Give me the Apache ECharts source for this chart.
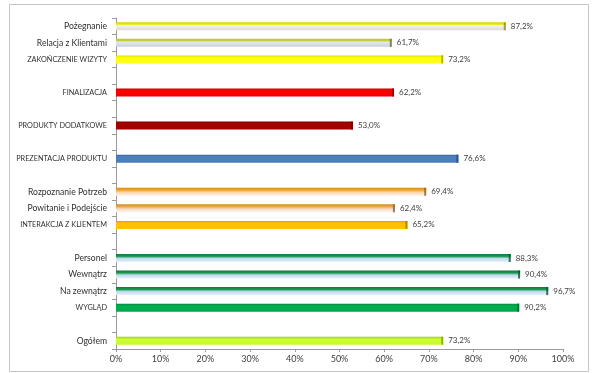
<!DOCTYPE html>
<html>
<head>
<meta charset="utf-8">
<script src="https://cdn.jsdelivr.net/npm/echarts@6/dist/echarts.min.js"></script>
<style>
html,body{margin:0;padding:0;background:#fff;}
#c{width:600px;height:373px;}
</style>
</head>
<body>
<div id="c"></div>
<script>
// Categories top to bottom (blank entries are empty spacer rows)
const categories = [
  'Pożegnanie', 'Relacja z Klientami', 'ZAKOŃCZENIE WIZYTY', ' ',
  'FINALIZACJA', '  ', 'PRODUKTY DODATKOWE', '   ',
  'PREZENTACJA PRODUKTU', '    ',
  'Rozpoznanie Potrzeb', 'Powitanie i Podejście', 'INTERAKCJA Z KLIENTEM', '     ',
  'Personel', 'Wewnątrz', 'Na zewnątrz', 'WYGLĄD', '      ',
  'Ogółem'
];
const values = [
  87.2, 61.7, 73.2, null,
  62.2, null, 53.0, null,
  76.6, null,
  69.4, 62.4, 65.2, null,
  88.3, 90.4, 96.7, 90.2, null,
  73.2
];
const xTicks = [0, 10, 20, 30, 40, 50, 60, 70, 80, 90, 100];

// Styles (gradient stops, top to bottom) per row
const palette = [
  [['#d6d600',0],['#e8e800',0.25],['#f2f2e8',0.4],['#dcdcd0',1]],
  [['#b8c830',0],['#c8d040',0.25],['#e6e8ee',0.4],['#c8d0dc',1]],
  [['#e0e000',0],['#ffff00',0.3],['#ffff20',1]],
  null,
  [['#d00000',0],['#ff0000',0.3],['#f00000',1]],
  null,
  [['#800000',0],['#a80000',0.3],['#a00000',1]],
  null,
  [['#3a6aa8',0],['#4f81bd',0.3],['#4a7cb8',1]],
  null,
  [['#d88a10',0],['#f0a838',0.3],['#fad8b0',0.6],['#fff4ea',1]],
  [['#d08a20',0],['#eca850',0.3],['#f8dcc8',0.6],['#fff6f0',1]],
  [['#e0a000',0],['#ffc000',0.3],['#ffc000',1]],
  null,
  [['#107840',0],['#1a9a50',0.3],['#c0d8ee',0.55],['#e8f0fa',1]],
  [['#107840',0],['#1a9a50',0.3],['#c0d8ee',0.55],['#e8f0fa',1]],
  [['#107840',0],['#1a9a50',0.3],['#c0d8ee',0.55],['#e8f0fa',1]],
  [['#008a40',0],['#00b050',0.3],['#00a84c',1]],
  null,
  [['#a0c820',0],['#ccff33',0.3],['#c8f830',1]]
];
const capColors = ['#8a8a20','#6a7040','#a0a000',null,'#900000',null,'#500000',null,'#274a78',null,
  '#906020','#806050','#a07800',null,'#0a5030','#0a5030','#0a5030','#006030',null,'#80a010'];

function grad(stops){
  return new echarts.graphic.LinearGradient(0,0,0,1, stops.map(s=>({offset:s[1], color:s[0]})));
}

const seriesData = values.map((v,i)=> v==null ? '-' : {
  value: v,
  itemStyle: { color: grad(palette[i]) }
});
const capData = values.map((v,i)=> v==null ? '-' : {
  value: v,
  itemStyle: { color: capColors[i] }
});

const chart = echarts.init(document.getElementById('c'), null, {renderer:'canvas'});
const font = 'Lato, "Open Sans", "DejaVu Sans", sans-serif';
chart.setOption({
  animation: false,
  backgroundColor: '#ffffff',
  grid: { left: 116, right: 37, top: 18, bottom: 24 },
  xAxis: {
    type: 'value', min: 0, max: 100, interval: 10,
    axisLine: { show: true, lineStyle: { color: '#9a9a9a' } },
    axisTick: { show: true, length: 3, lineStyle: { color: '#9a9a9a' } },
    splitLine: { show: false },
    axisLabel: { color: '#404040', fontSize: 9, fontFamily: font, margin: 6,
      formatter: v => xTicks.includes(v) ? v + '%' : '' }
  },
  yAxis: {
    type: 'category', inverse: true, data: categories,
    axisLine: { show: true, lineStyle: { color: '#9a9a9a' } },
    axisTick: { show: true, length: 4, lineStyle: { color: '#9a9a9a' } },
    axisLabel: { color: '#303030', fontFamily: font, margin: 9,
      formatter: v => v.trim() === '' ? '' : (v === v.toUpperCase() ? '{cap|' + v + '}' : '{low|' + v + '}'),
      rich: {
        cap: { fontSize: 7.3, fontFamily: font, color: '#303030' },
        low: { fontSize: 8.6, fontFamily: font, color: '#303030' }
      }
    }
  },
  series: [{
    type: 'bar', data: seriesData, barWidth: 8,
    label: { show: true, position: 'right', distance: 5, color: '#404040', fontSize: 8, fontFamily: font,
      formatter: p => p.value.toFixed(1).replace('.', ',') + '%' }
  }, {
    type: 'scatter', data: capData, symbol: 'rect', symbolSize: [2, 8], symbolOffset: [-1, 0],
    silent: true, z: 3
  }],
  graphic: [{
    type: 'rect', shape: { x: 9.5, y: 4.5, width: 579, height: 367 },
    style: { fill: 'none', stroke: '#c4c4c4', lineWidth: 1 }, z: -1
  }]
});
</script>
</body>
</html>
